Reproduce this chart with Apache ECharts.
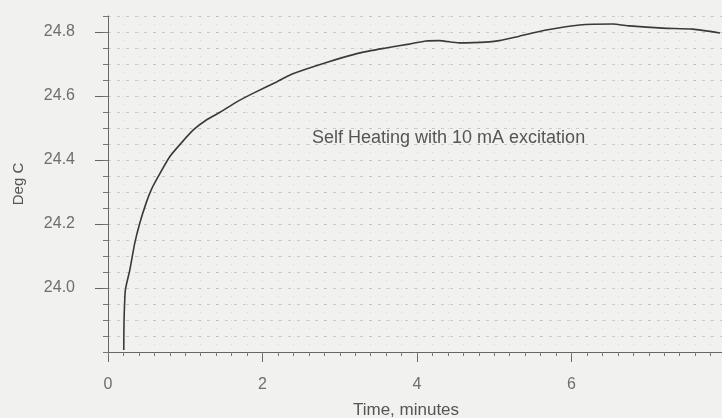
<!DOCTYPE html>
<html>
<head>
<meta charset="utf-8">
<script src="https://cdn.jsdelivr.net/npm/echarts@6/dist/echarts.min.js"></script>
<style>
  html, body { margin: 0; padding: 0; background: #f1f1ef; }
  #chart { width: 722px; height: 418px; }
</style>
</head>
<body>
<div id="chart"></div>
<script>
// time in minutes, temperature in Deg C
var times = [0.204, 0.208, 0.225, 0.282, 0.347, 0.412, 0.494, 0.558, 0.649, 0.801,
             0.948, 1.104, 1.273, 1.455, 1.662, 1.883, 2.182, 2.377, 2.818, 3.247,
             3.597, 3.896, 4.117, 4.286, 4.545, 4.935, 5.065, 5.325, 5.675, 6.104,
             6.532, 6.753, 7.182, 7.571, 7.922];
var temps = [23.806, 23.90, 23.994, 24.056, 24.141, 24.203, 24.266, 24.306, 24.348, 24.411,
             24.453, 24.494, 24.525, 24.55, 24.581, 24.609, 24.644, 24.668, 24.704, 24.734,
             24.75, 24.762, 24.772, 24.773, 24.766, 24.769, 24.773, 24.787, 24.806, 24.822,
             24.825, 24.819, 24.812, 24.809, 24.797];
var note = 'Self Heating with 10 mA excitation';

var pts = times.map(function (t, i) { return [t, temps[i]]; });

var myChart = echarts.init(document.getElementById('chart'));
var fam = 'Liberation Sans, Arial, sans-serif';
var labelFont = { color: '#6e6e6e', fontSize: 16, fontFamily: fam };

option = {
    backgroundColor: '#f1f1ef',
    animation: false,
    grid: { left: 108, right: -4, top: 16, bottom: 66, outerBoundsMode: 'none' },
    xAxis: [
        {
            type: 'value', min: 0, max: 8, interval: 2,
            name: 'Time, minutes', nameLocation: 'middle', nameGap: 50,
            nameTextStyle: { color: '#555', fontSize: 17, fontFamily: fam, padding: [0, 22, 0, 0] },
            axisLine: { lineStyle: { color: '#666', width: 1 } },
            axisTick: { length: 10, lineStyle: { color: '#666' } },
            axisLabel: Object.assign({ margin: 25 }, labelFont),
            splitLine: { show: false }
        },
        {
            type: 'value', min: 0, max: 8, interval: 0.2, position: 'bottom',
            axisLine: { show: false },
            axisTick: { length: 4, lineStyle: { color: '#777' } },
            axisLabel: { show: false },
            splitLine: { show: true, lineStyle: { color: 'rgba(0,0,0,0.10)', type: [1, 7] } }
        }
    ],
    yAxis: [
        {
            type: 'value', min: 23.8, max: 24.85, interval: 0.2,
            name: 'Deg C', nameLocation: 'middle', nameGap: 82, nameRotate: 90,
            nameTextStyle: { color: '#555', fontSize: 15, fontFamily: fam },
            axisLine: { lineStyle: { color: '#666', width: 1 } },
            axisTick: { length: 13, lineStyle: { color: '#666' } },
            axisLabel: Object.assign({
                margin: 33, showMinLabel: false, showMaxLabel: false,
                formatter: function (v) { return v.toFixed(1); }
            }, labelFont),
            splitLine: { show: false }
        },
        {
            type: 'value', min: 23.8, max: 24.85, interval: 0.05, position: 'left',
            axisLine: { show: false },
            axisTick: { length: 5, lineStyle: { color: '#777' } },
            axisLabel: { show: false },
            splitLine: { show: true, lineStyle: { color: 'rgba(0,0,0,0.16)', type: [3, 6] } }
        }
    ],
    graphic: [
        {
            type: 'text', left: 312, top: 129,
            style: { text: note, fill: '#555', font: '18px ' + fam }
        }
    ],
    series: [
        {
            type: 'line',
            xAxisIndex: 0, yAxisIndex: 0,
            data: pts,
            showSymbol: false,
            smooth: 0.2,
            lineStyle: { color: '#3a3a3a', width: 1.6 }
        }
    ]
};
myChart.setOption(option);
</script>
</body>
</html>
